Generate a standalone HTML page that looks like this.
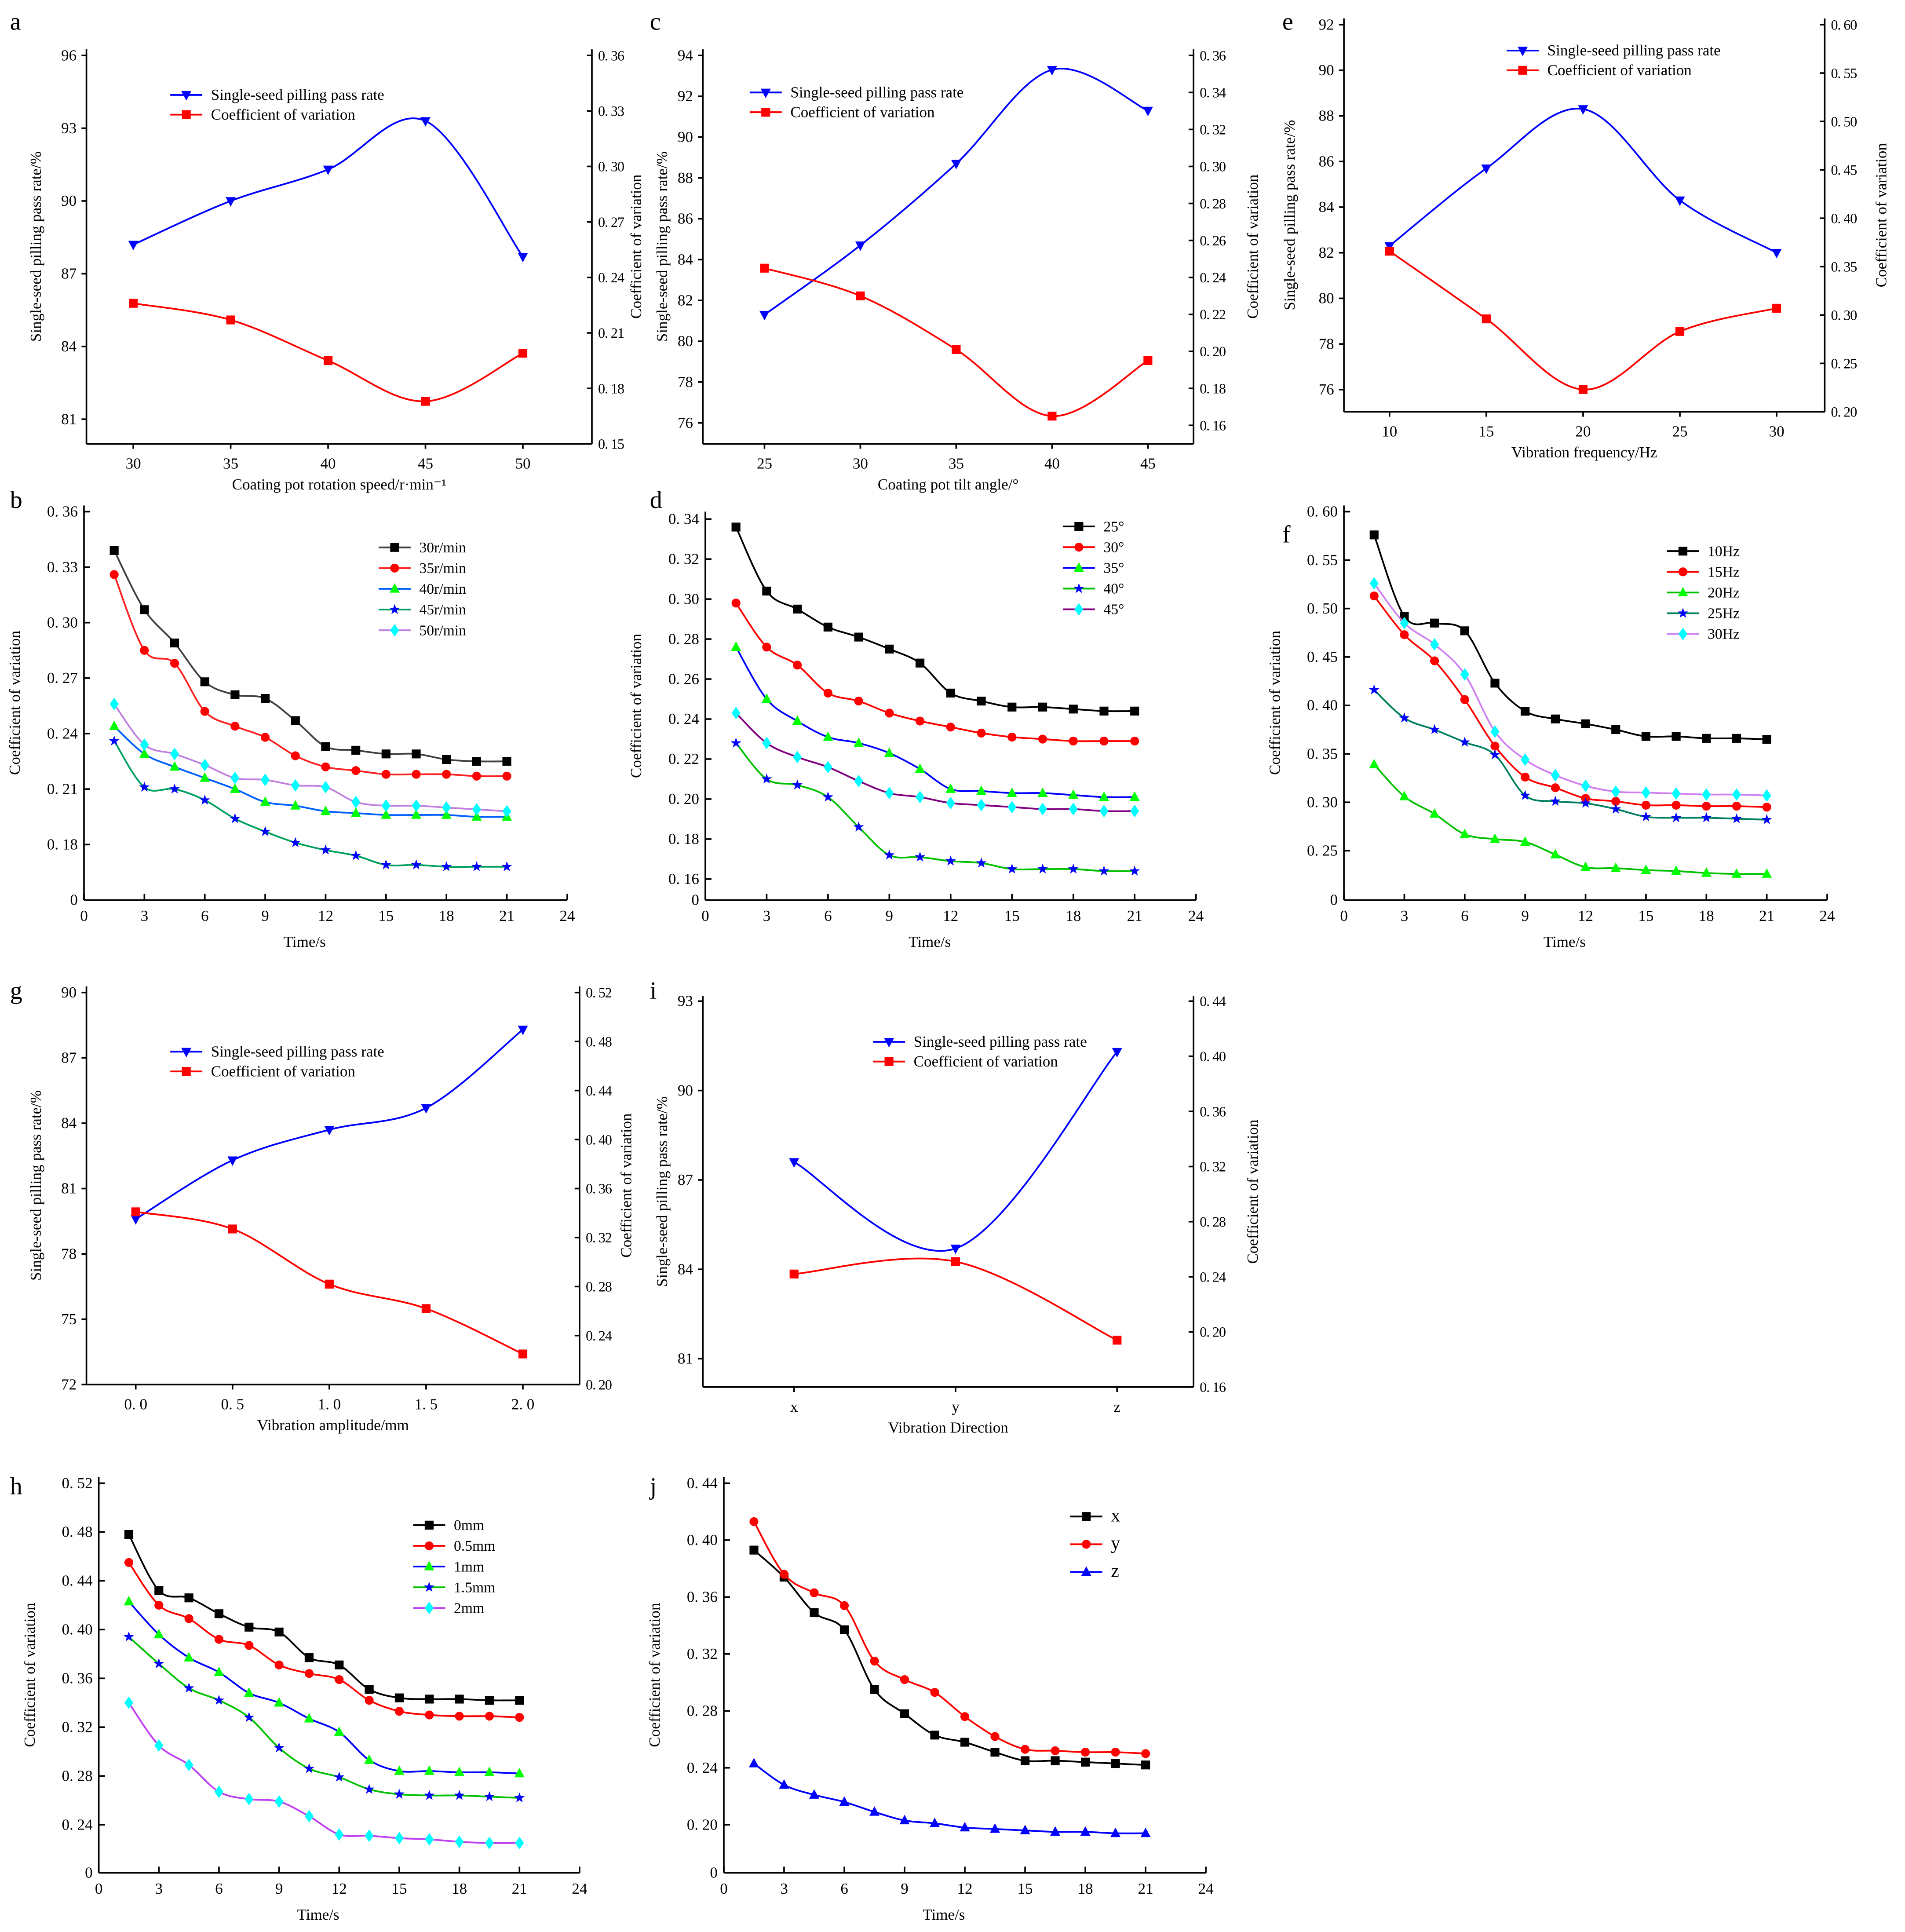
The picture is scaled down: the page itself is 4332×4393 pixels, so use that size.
<!DOCTYPE html>
<html><head><meta charset="utf-8"><style>
html,body{margin:0;padding:0;background:#fff;}
svg{display:block;}
text{font-family:"Liberation Serif",serif;fill:#000;}
</style></head><body>
<svg id="fig" xmlns="http://www.w3.org/2000/svg" width="4332" height="4393" viewBox="0 0 1545 1567"></svg>
<script>
// ---------- DATA ----------
const speedCats=[30,35,40,45,50];
const speedPass=[88.2,90.0,91.3,93.3,87.7];
const speedCov=[0.226,0.217,0.195,0.173,0.199];
const tiltCats=[25,30,35,40,45];
const tiltPass=[81.3,84.7,88.7,93.3,91.3];
const tiltCov=[0.245,0.230,0.201,0.165,0.195];
const freqCats=[10,15,20,25,30];
const freqPass=[82.3,85.7,88.3,84.3,82.0];
const freqCov=[0.366,0.296,0.223,0.283,0.307];
const ampCats=[0,0.5,1.0,1.5,2.0];
const ampPass=[79.6,82.3,83.7,84.7,88.3];
const ampCov=[0.341,0.327,0.282,0.262,0.225];
const dirCats=["x","y","z"];
const dirPass=[87.6,84.7,91.3];
const dirCov=[0.242,0.251,0.194];
const times=[1.5,3,4.5,6,7.5,9,10.5,12,13.5,15,16.5,18,19.5,21];
const bLabels=["30r/min","35r/min","40r/min","45r/min","50r/min"];
const b30=[0.339,0.307,0.289,0.268,0.261,0.259,0.247,0.233,0.231,0.229,0.229,0.226,0.225,0.225];
const b35=[0.326,0.285,0.278,0.252,0.244,0.238,0.228,0.222,0.220,0.218,0.218,0.218,0.217,0.217];
const b40=[0.244,0.229,0.222,0.216,0.210,0.203,0.201,0.198,0.197,0.196,0.196,0.196,0.195,0.195];
const b45=[0.236,0.211,0.210,0.204,0.194,0.187,0.181,0.177,0.174,0.169,0.169,0.168,0.168,0.168];
const b50=[0.256,0.234,0.229,0.223,0.216,0.215,0.212,0.211,0.203,0.201,0.201,0.200,0.199,0.198];
const dLabels=["25°","30°","35°","40°","45°"];
const d25=[0.336,0.304,0.295,0.286,0.281,0.275,0.268,0.253,0.249,0.246,0.246,0.245,0.244,0.244];
const d30=[0.298,0.276,0.267,0.253,0.249,0.243,0.239,0.236,0.233,0.231,0.230,0.229,0.229,0.229];
const d35=[0.276,0.250,0.239,0.231,0.228,0.223,0.215,0.205,0.204,0.203,0.203,0.202,0.201,0.201];
const d40=[0.228,0.210,0.207,0.201,0.186,0.172,0.171,0.169,0.168,0.165,0.165,0.165,0.164,0.164];
const d45=[0.243,0.228,0.221,0.216,0.209,0.203,0.201,0.198,0.197,0.196,0.195,0.195,0.194,0.194];
const fLabels=["10Hz","15Hz","20Hz","25Hz","30Hz"];
const f10=[0.576,0.492,0.485,0.477,0.423,0.394,0.386,0.381,0.375,0.368,0.368,0.366,0.366,0.365];
const f15=[0.513,0.473,0.446,0.406,0.358,0.326,0.315,0.304,0.301,0.297,0.297,0.296,0.296,0.295];
const f20=[0.339,0.306,0.288,0.267,0.262,0.259,0.246,0.233,0.232,0.230,0.229,0.227,0.226,0.226];
const f25=[0.416,0.387,0.375,0.362,0.349,0.307,0.301,0.299,0.293,0.285,0.284,0.284,0.283,0.282];
const f30=[0.526,0.485,0.463,0.432,0.373,0.344,0.328,0.317,0.311,0.310,0.309,0.308,0.308,0.307];
const hLabels=["0mm","0.5mm","1mm","1.5mm","2mm"];
const h0=[0.478,0.432,0.426,0.413,0.402,0.398,0.377,0.371,0.351,0.344,0.343,0.343,0.342,0.342];
const h05=[0.455,0.420,0.409,0.392,0.387,0.371,0.364,0.359,0.342,0.333,0.330,0.329,0.329,0.328];
const h1=[0.423,0.396,0.377,0.365,0.348,0.340,0.327,0.316,0.293,0.284,0.284,0.283,0.283,0.282];
const h15=[0.394,0.372,0.352,0.342,0.328,0.303,0.286,0.279,0.269,0.265,0.264,0.264,0.263,0.262];
const h2=[0.340,0.305,0.289,0.267,0.261,0.259,0.247,0.232,0.231,0.229,0.228,0.226,0.225,0.225];
const jLabels=["x","y","z"];
const jx=[0.393,0.374,0.349,0.337,0.295,0.278,0.263,0.258,0.251,0.245,0.245,0.244,0.243,0.242];
const jy=[0.413,0.376,0.363,0.354,0.315,0.302,0.293,0.276,0.262,0.253,0.252,0.251,0.251,0.250];
const jz=[0.243,0.228,0.221,0.216,0.209,0.203,0.201,0.198,0.197,0.196,0.195,0.195,0.194,0.194];

// ---------- helpers ----------
const NS="http://www.w3.org/2000/svg";
const svg=document.getElementById('fig');
function mk(tag,attrs,parent,txt){const e=document.createElementNS(NS,tag);for(const k in attrs)e.setAttribute(k,attrs[k]);if(txt!==undefined)e.textContent=txt;(parent||svg).appendChild(e);return e;}
function lin(d0,d1,p0,p1){return v=>p0+(v-d0)*(p1-p0)/(d1-d0);}
function smooth(pts){let d=`M${pts[0][0]},${pts[0][1]}`;for(let i=0;i<pts.length-1;i++){const p0=pts[Math.max(0,i-1)],p1=pts[i],p2=pts[i+1],p3=pts[Math.min(pts.length-1,i+2)];const c1=[p1[0]+(p2[0]-p0[0])/6,p1[1]+(p2[1]-p0[1])/6],c2=[p2[0]-(p3[0]-p1[0])/6,p2[1]-(p3[1]-p1[1])/6];d+=` C${c1[0]},${c1[1]} ${c2[0]},${c2[1]} ${p2[0]},${p2[1]}`;}return d;}
function fmt(v){return "0. "+v.toFixed(2).slice(2);}
function marker(g,type,x,y,color){let e;const s=3.6;
 if(type==='sq')e=mk('rect',{x:x-s,y:y-s,width:2*s,height:2*s,fill:color},g);
 else if(type==='ci')e=mk('circle',{cx:x,cy:y,r:s,fill:color},g);
 else if(type==='tu')e=mk('polygon',{points:`${x},${y-s-1} ${x-s-0.5},${y+s-0.5} ${x+s+0.5},${y+s-0.5}`,fill:color},g);
 else if(type==='td')e=mk('polygon',{points:`${x},${y+s+1} ${x-s-0.5},${y-s+0.5} ${x+s+0.5},${y-s+0.5}`,fill:color},g);
 else if(type==='di')e=mk('polygon',{points:`${x},${y-s-1.5} ${x+s},${y} ${x},${y+s+1.5} ${x-s},${y}`,fill:color},g);
 else {let p=[];for(let i=0;i<10;i++){const r=i%2?1.8:4.5,a=-Math.PI/2+i*Math.PI/5;p.push((x+r*Math.cos(a)).toFixed(2)+','+(y+r*Math.sin(a)).toFixed(2));}e=mk('polygon',{points:p.join(' '),fill:color},g);}
 
 
}
function series(g,xs,ys,xS,yS,line,mtype,mcol,name){
 const pts=xs.map((x,i)=>[xS(x),yS(ys[i])]);
 const sg=mk('g',{},g);
 
 
 mk('path',{d:smooth(pts),fill:'none',stroke:line,'stroke-width':1.4},sg);
 pts.forEach(p=>marker(sg,mtype,p[0],p[1],mcol));
}
function letter(t,x,y){const e=mk('text',{x:x,y:y,'font-size':20},svg,t);}
function vlabel(g,t,x,y,name){const e=mk('text',{x:x,y:y,'font-size':12.5,'text-anchor':'middle',transform:`rotate(-90 ${x} ${y})`},g,t);}
function hlabel(g,t,x,y,name,fs){const e=mk('text',{x:x,y:y,'font-size':fs||12.5,'text-anchor':'middle'},g,t);return e;}

// dual-axis panel
function dual(c){
 const g=mk('g',{});
 letter(c.id,c.lx,c.ly);
 const ax={stroke:'#000','stroke-width':1.3};
 mk('line',Object.assign({x1:c.L,y1:c.T,x2:c.L,y2:c.B},ax),g);
 mk('line',Object.assign({x1:c.R,y1:c.T,x2:c.R,y2:c.B},ax),g);
 mk('line',Object.assign({x1:c.L,y1:c.B,x2:c.R,y2:c.B},ax),g);
 c.lt.forEach(v=>{const y=c.yL(v);mk('line',Object.assign({x1:c.L-4,y1:y,x2:c.L,y2:y},ax),g);hlabel(g,String(v),c.L-8,y+4,'left-tick-label').setAttribute('text-anchor','end');});
 c.rt.forEach(v=>{const y=c.yR(v);mk('line',Object.assign({x1:c.R-4,y1:y,x2:c.R,y2:y},ax),g);const t=hlabel(g,fmt(v),c.R+5,y+4,'right-tick-label',11.5);t.setAttribute('text-anchor','start');t.setAttribute('letter-spacing','-0.4');});
 c.cats.forEach((v,i)=>{const x=c.xS(c.catIdx?i:v);mk('line',Object.assign({x1:x,y1:c.B,x2:x,y2:c.B+4},ax),g);hlabel(g,c.catFmt?c.catFmt(v):String(v),x,c.B+20,'x-tick-label');});
 hlabel(g,c.xt,(c.L+c.R)/2,c.B+37,'x-axis-title');
 vlabel(g,'Single-seed pilling pass rate/%',c.L-c.lo,(c.T+c.B)/2,'left-axis-title');
 vlabel(g,'Coefficient of variation',c.R+c.ro,(c.T+c.B)/2,'right-axis-title');
 const xv=c.catIdx?c.cats.map((v,i)=>i):c.cats;
 series(g,xv,c.pass,c.xS,c.yL,'#0000ff','td','#0000ff','pass-rate-series');
 series(g,xv,c.cov,c.xS,c.yR,'#ff0000','sq','#ff0000','cov-series');
 const lg=mk('g',{},g);
 [['Single-seed pilling pass rate','#0000ff','td'],['Coefficient of variation','#ff0000','sq']].forEach((e,i)=>{const y=c.legY+i*16;mk('line',{x1:c.legX,y1:y,x2:c.legX+26,y2:y,stroke:e[1],'stroke-width':1.4},lg);marker(lg,e[2],c.legX+13,y,e[1]);const t=mk('text',{x:c.legX+33,y:y+4,'font-size':12.5},lg,e[0]);});
}
function range(a,b,s){const r=[];for(let v=a;v<=b+1e-9;v+=s)r.push(Math.round(v*1000)/1000);return r;}

dual({id:'a',lx:8,ly:24,L:70,R:480,T:40,B:360,lo:37,ro:40,xS:lin(30,50,108,424),yL:lin(81,96,340,45),yR:lin(0.15,0.36,360,45),lt:range(81,96,3),rt:range(0.15,0.36,0.03),cats:speedCats,pass:speedPass,cov:speedCov,xt:'Coating pot rotation speed/r·min⁻¹',legX:138,legY:77});
dual({id:'c',lx:527,ly:24,L:570,R:968,T:40,B:360,lo:29,ro:52,xS:lin(25,45,620,931),yL:lin(76,94,343,45),yR:lin(0.16,0.36,345,45),lt:range(76,94,2),rt:range(0.16,0.36,0.02),cats:tiltCats,pass:tiltPass,cov:tiltCov,xt:'Coating pot tilt angle/°',legX:608,legY:75});
dual({id:'e',lx:1040,ly:24,L:1090,R:1480,T:15,B:334,lo:40,ro:50,xS:lin(10,30,1127,1441),yL:lin(76,92,316,20),yR:lin(0.20,0.60,334,20),lt:range(76,92,2),rt:range(0.20,0.60,0.05),cats:freqCats,pass:freqPass,cov:freqCov,xt:'Vibration frequency/Hz',legX:1222,legY:41});
dual({id:'g',lx:8,ly:810,L:70,R:470,T:800,B:1123,lo:37,ro:42,xS:lin(0,2,110,424),yL:lin(72,90,1123,805),yR:lin(0.20,0.52,1123,805),lt:range(72,90,3),rt:range(0.20,0.52,0.04),cats:ampCats,catFmt:v=>v.toFixed(1).replace('.','. '),pass:ampPass,cov:ampCov,xt:'Vibration amplitude/mm',legX:138,legY:853});
dual({id:'i',lx:527,ly:810,L:570,R:968,T:808,B:1125,lo:29,ro:52,xS:lin(0,2,644,906),catIdx:true,yL:lin(81,93,1102,812),yR:lin(0.16,0.44,1125,812),lt:range(81,93,3),rt:range(0.16,0.44,0.04),cats:dirCats,pass:dirPass,cov:dirCov,xt:'Vibration Direction',legX:708,legY:845});

// time panels
const lineCols=['#404040','#ff2020','#0060ff','#00a060','#c080e0'];
const mTypes=['sq','ci','tu','st','di'];
const mCols=['#000000','#ff0000','#00ff00','#0000ff','#00ffff'];
function timePanel(c){
 const g=mk('g',{});
 letter(c.id,c.lx,c.ly);
 const ax={stroke:'#000','stroke-width':1.3};
 const x0=c.xS(0),x24=c.xS(24);
 mk('line',Object.assign({x1:x0,y1:c.T,x2:x0,y2:c.B},ax),g);
 mk('line',Object.assign({x1:x0,y1:c.B,x2:x24,y2:c.B},ax),g);
 for(let t=0;t<=24;t+=3){const x=c.xS(t);mk('line',Object.assign({x1:x,y1:c.B,x2:x,y2:c.B-5},ax),g);hlabel(g,String(t),x,c.B+17,'x-tick-label');}
 c.ticks.forEach(v=>{const y=c.yS(v);mk('line',Object.assign({x1:x0,y1:y,x2:x0+5,y2:y},ax),g);hlabel(g,fmt(v),x0-5,y+4,'y-tick-label').setAttribute('text-anchor','end');});
 hlabel(g,'0',x0-5,c.B+4,'y-tick-label').setAttribute('text-anchor','end');
 hlabel(g,'Time/s',(x0+x24)/2-17,c.B+38,'x-axis-title');
 vlabel(g,'Coefficient of variation',x0-52,(c.T+c.B)/2,'y-axis-title');
 c.data.forEach((d,i)=>series(g,times,d,c.xS,c.yS,c.lc[i],c.mt[i],c.mc[i],'series-'+c.labels[i]));
 const lg=mk('g',{},g);
 c.labels.forEach((l,i)=>{const y=c.legY+i*c.legDy;mk('line',{x1:c.legX,y1:y,x2:c.legX+26,y2:y,stroke:c.lc[i],'stroke-width':1.4},lg);marker(lg,c.mt[i],c.legX+13,y,c.mc[i]);const t=mk('text',{x:c.legX+33,y:y+4,'font-size':c.legFs||12},lg,l);});
}
timePanel({id:'b',lx:8,ly:412,T:410,B:730,xS:lin(0,24,68,460),yS:lin(0.18,0.36,685,415),ticks:range(0.18,0.36,0.03),data:[b30,b35,b40,b45,b50],labels:bLabels,lc:lineCols,mt:mTypes,mc:mCols,legX:307,legY:444,legDy:16.8});
timePanel({id:'d',lx:527,ly:412,T:415,B:730,xS:lin(0,24,572,970),yS:lin(0.16,0.34,713,421),ticks:range(0.16,0.34,0.02),data:[d25,d30,d35,d40,d45],labels:dLabels,lc:['#000000','#ff0000','#0000ff','#00c000','#800080'],mt:['sq','ci','tu','st','di'],mc:['#000000','#ff0000','#00ff00','#0000ff','#00ffff'],legX:862,legY:427,legDy:16.8});
timePanel({id:'f',lx:1040,ly:440,T:410,B:730,xS:lin(0,24,1090,1482),yS:lin(0.25,0.60,690,415),ticks:range(0.25,0.60,0.05),data:[f10,f15,f20,f25,f30],labels:fLabels,lc:['#000000','#ff0000','#00c000','#008060','#d080f0'],mt:mTypes,mc:mCols,legX:1352,legY:447,legDy:16.8});
timePanel({id:'h',lx:8,ly:1212,T:1198,B:1519,xS:lin(0,24,80,470),yS:lin(0.24,0.52,1480,1203),ticks:range(0.24,0.52,0.04),data:[h0,h05,h1,h15,h2],labels:hLabels,lc:['#000000','#ff0000','#0000ff','#00c000','#c040f0'],mt:mTypes,mc:['#000000','#ff0000','#00ff00','#0000ff','#00ffff'],legX:335,legY:1237,legDy:16.8});
timePanel({id:'j',lx:527,ly:1212,T:1198,B:1519,xS:lin(0,24,587,978),yS:lin(0.20,0.44,1480,1203),ticks:range(0.20,0.44,0.04),data:[jx,jy,jz],labels:jLabels,lc:['#000000','#ff0000','#0000ff'],mt:['sq','ci','tu'],mc:['#000000','#ff0000','#0000ff'],legX:868,legY:1230,legDy:22.5,legFs:15});
</script>
</body></html>
